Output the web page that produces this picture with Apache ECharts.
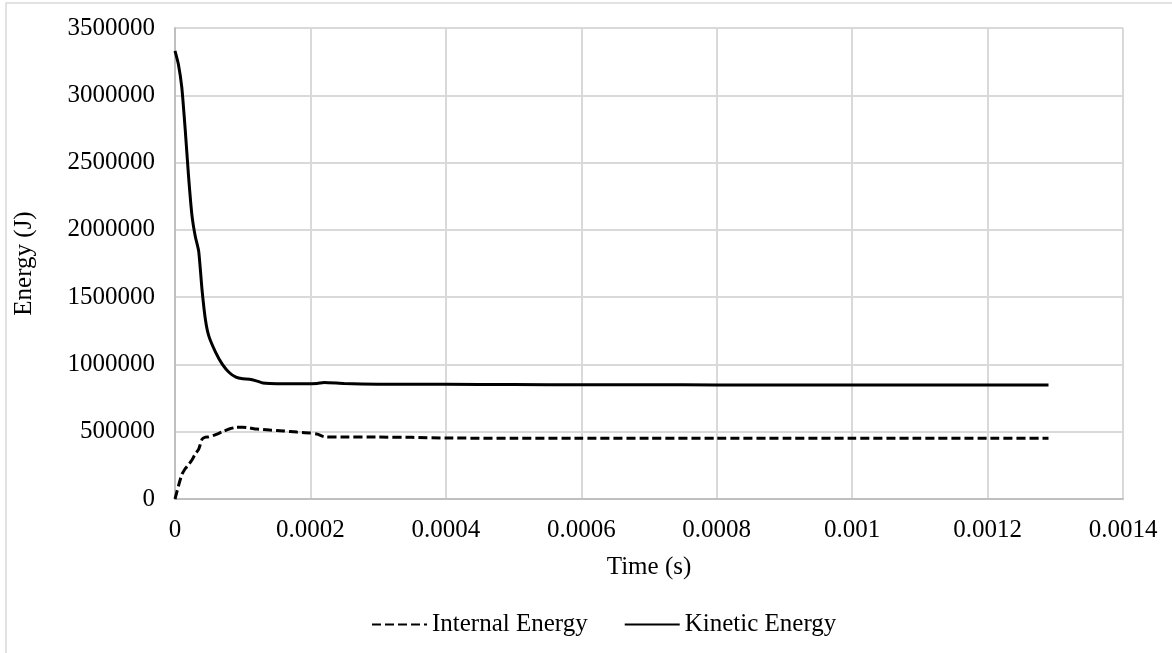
<!DOCTYPE html>
<html>
<head>
<meta charset="utf-8">
<script src="https://cdn.jsdelivr.net/npm/echarts@6/dist/echarts.min.js"></script>
<style>
html,body{margin:0;padding:0;background:#fff;}
#chart{width:1172px;height:653px;}
</style>
</head>
<body>
<div id="chart"></div>
<script>
// time (s)
var times = [0, 5e-6, 1e-5, 1.5e-5, 2e-5, 2.5e-5, 3e-5, 3.5e-5, 4e-5, 4.5e-5, 5e-5, 6e-5, 7e-5, 8e-5, 9e-5,
	1e-4, 1.1e-4, 1.2e-4, 1.3e-4, 1.4e-4, 1.6e-4, 1.8e-4, 2e-4, 2.1e-4, 2.2e-4, 2.5e-4, 3e-4, 3.5e-4, 4e-4,
	5e-4, 6e-4, 7e-4, 8e-4, 9e-4, 1e-3, 1.1e-3, 1.2e-3, 1.29e-3];

var internalEnergy = [0, 95000, 180000, 225000, 255000, 290000, 335000, 370000, 445000, 460000, 462000, 478000, 500000, 520000, 532000,
	533000, 528000, 520000, 516000, 512000, 506000, 497000, 490000, 482000, 463000, 460000, 460000, 458000, 453000,
	452000, 452000, 452000, 452000, 452000, 452000, 452000, 452000, 452000];

var kineticEnergy = [3330000, 3230000, 3060000, 2750000, 2400000, 2110000, 1950000, 1840000, 1550000, 1330000, 1210000, 1090000, 1000000, 940000, 905000,
	893000, 890000, 878000, 862000, 858000, 856000, 856000, 857000, 858000, 866000, 858000, 853000, 852000, 852000,
	850000, 849000, 849000, 848000, 848000, 848000, 847000, 848000, 847000];

var seriesNames = ['Internal Energy', 'Kinetic Energy'];

function pairs(vals){
	var out = [];
	for(var i=0;i<times.length;i++){
		out.push([times[i], vals[i]]);
	}
	return out;
}

var font = 'Liberation Serif, Times New Roman, serif';
var fs = 25;
var myChart = echarts.init(document.getElementById('chart'));

var option = {
	backgroundColor: '#fff',
	animation: false,
	graphic: [{
		type: 'rect',
		shape: {x: 6, y: 3, width: 1180, height: 670},
		style: {fill: 'none', stroke: '#d9d9d9', lineWidth: 1.5},
		silent: true
	}],
	grid: {left: 175, top: 28, right: 49, bottom: 154},
	legend: {
		data: seriesNames,
		bottom: 11,
		left: 366,
		itemWidth: 55,
		itemHeight: 14,
		itemGap: 36,
		itemStyle: {opacity: 0},
		textStyle: {fontFamily: font, fontSize: fs, color: '#000'}
	},
	xAxis: {
		type: 'value',
		min: 0,
		max: 0.0014,
		interval: 0.0002,
		name: 'Time (s)',
		nameLocation: 'middle',
		nameGap: 56,
		nameTextStyle: {fontFamily: font, fontSize: fs, color: '#000'},
		axisLine: {lineStyle: {color: '#bfbfbf', width: 2}},
		axisTick: {show: false},
		axisLabel: {
			fontFamily: font, fontSize: fs, color: '#000', margin: 19,
			formatter: function(v){ return String(parseFloat(v.toFixed(5))); }
		},
		splitLine: {show: true, lineStyle: {color: '#d9d9d9', width: 2}}
	},
	yAxis: {
		type: 'value',
		min: 0,
		max: 3500000,
		interval: 500000,
		name: 'Energy (J)',
		nameLocation: 'middle',
		nameGap: 138,
		nameTextStyle: {fontFamily: font, fontSize: fs, color: '#000'},
		axisLine: {show: true, lineStyle: {color: '#bfbfbf', width: 2}},
		axisTick: {show: false},
		axisLabel: {
			fontFamily: font, fontSize: fs, color: '#000', margin: 20,
			formatter: function(v){ return String(v); }
		},
		splitLine: {lineStyle: {color: '#d9d9d9', width: 2}}
	},
	series: [
		{
			name: seriesNames[0],
			type: 'line',
			symbol: 'none',
			smooth: 0.2,
			lineStyle: {color: '#000', width: 3, type: [9, 4]},
			itemStyle: {color: '#000'},
			data: pairs(internalEnergy)
		},
		{
			name: seriesNames[1],
			type: 'line',
			symbol: 'none',
			smooth: 0.2,
			lineStyle: {color: '#000', width: 3},
			itemStyle: {color: '#000'},
			data: pairs(kineticEnergy)
		}
	]
};

myChart.setOption(option);
</script>
</body>
</html>
